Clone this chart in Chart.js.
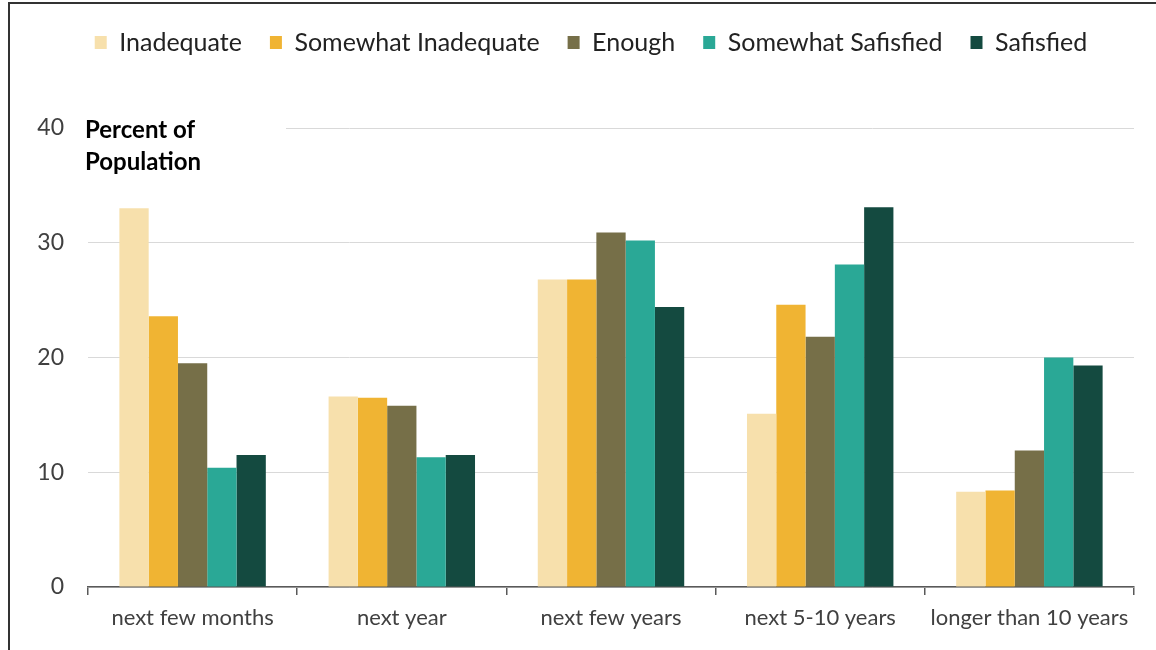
<!DOCTYPE html>
<html>
<head>
<meta charset="utf-8">
<script src="https://cdn.jsdelivr.net/npm/chart.js@4.4.0/dist/chart.umd.min.js"></script>
<style>
  body { margin: 0; background: #fff; }
  #wrap { position: relative; width: 1156px; height: 650px; }
  #frame { position: absolute; left: 8px; top: 2px; right: 0; bottom: 0;
           border-top: 2px solid #333; border-left: 2px solid #333; pointer-events: none; }
</style>
</head>
<body>
<div id="wrap">
  <canvas id="myChart" width="1156" height="650"></canvas>
  <div id="frame"></div>
</div>
<script>
const categories = ['next few months', 'next year', 'next few years', 'next 5-10 years', 'longer than 10 years']
const inadequate = [33.0, 16.6, 26.8, 15.1, 8.3]
const somewhatInadequate = [23.6, 16.5, 26.8, 24.6, 8.4]
const enough = [19.5, 15.8, 30.9, 21.8, 11.9]
const somewhatSatisfied = [10.4, 11.3, 30.2, 28.1, 20.0]
const satisfied = [11.5, 11.5, 24.4, 33.1, 19.3]
const yTicks = [0, 10, 20, 30, 40]

const font = 'Lato'

// legend box sits above the plot, force its height so the plot starts where the original does
const legendHeight = {
  id: 'legendHeight',
  beforeInit(chart) {
    const fit = chart.legend.fit
    chart.legend.fit = function () {
      fit.bind(chart.legend)()
      this.height = 128
    }
  },
  // the original legend is a bit right of centre and a touch lower
  afterLayout(chart) {
    chart.legend.left += 24
    chart.legend.right += 24
    chart.legend.top += 2
  }
}

// "Percent of Population" sits inside the plot and hides the top gridline behind it
const axisTitle = {
  id: 'axisTitle',
  beforeDatasetsDraw(chart) {
    const ctx = chart.ctx
    const y = chart.scales.y.getPixelForValue(40)
    ctx.save()
    ctx.fillStyle = '#fff'
    ctx.fillRect(chart.chartArea.left, y - 3, 198, 6)
    ctx.fillStyle = '#000'
    ctx.font = `bold 24px ${font}`
    ctx.textBaseline = 'middle'
    ctx.fillText('Percent of', 85, 130)
    ctx.fillText('Population', 85, 162)
    ctx.restore()
  }
}

const ds = (label, data, color) => ({
  label: label,
  data: data,
  backgroundColor: color,
  borderWidth: 0,
  categoryPercentage: 0.7,
  barPercentage: 1.0
})

new Chart('myChart', {
  type: 'bar',
  data: {
    labels: categories,
    datasets: [
      ds('Inadequate', inadequate, '#F7E0AC'),
      ds('Somewhat Inadequate', somewhatInadequate, '#F0B433'),
      ds('Enough', enough, '#766F48'),
      ds('Somewhat Safisfied', somewhatSatisfied, '#2AA896'),
      ds('Safisfied', satisfied, '#144A40')
    ]
  },
  options: {
    responsive: false,
    animation: false,
    layout: { padding: { left: 0, right: 22, top: 0, bottom: 0 } },
    plugins: {
      tooltip: { enabled: false },
      legend: {
        position: 'top',
        labels: {
          boxWidth: 12,
          boxHeight: 13,
          padding: 28,
          color: '#222',
          font: { family: font, size: 25 }
        }
      }
    },
    scales: {
      x: {
        grid: {
          display: true,
          drawOnChartArea: false,
          drawTicks: true,
          tickLength: 8,
          color: '#595959',
          lineWidth: 1.5
        },
        border: { display: true, color: '#595959', width: 1.5 },
        ticks: { color: '#404040', padding: 10, font: { family: font, size: 22 } },
        afterFit(scale) { scale.height = 63 }
      },
      y: {
        min: 0,
        max: 40,
        afterBuildTicks(scale) { scale.ticks = yTicks.map(v => ({ value: v })) },
        grid: { color: '#d9d9d9', drawTicks: false, lineWidth: 1 },
        border: { display: false },
        ticks: { color: '#404040', padding: 24, font: { family: font, size: 23 } },
        afterFit(scale) { scale.width = 88 }
      }
    }
  },
  plugins: [legendHeight, axisTitle]
})
</script>
</body>
</html>
